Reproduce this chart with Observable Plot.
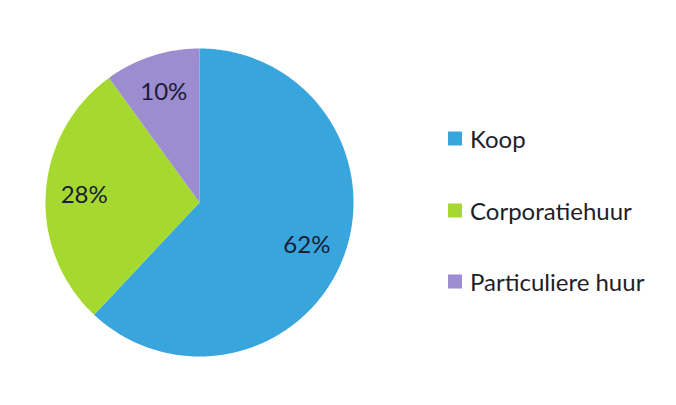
<!DOCTYPE html>
<html>
<head>
<meta charset="utf-8">
<script src="https://cdn.jsdelivr.net/npm/d3@7"></script>
<script src="https://cdn.jsdelivr.net/npm/@observablehq/plot@0.6"></script>
<style>
  html, body { margin: 0; padding: 0; background: #fff; }
  #wrap { position: relative; width: 676px; height: 405px; font-family: Lato, "Open Sans", sans-serif; }
  #legend { position: absolute; left: 448px; top: 0; }
  .item { position: absolute; left: 0; display: flex; align-items: center; white-space: nowrap; color: #1e1e2a; font-size: 24px; transform: translateY(-50%); }
  .sw { width: 14px; height: 14px; margin-right: 8px; }
</style>
</head>
<body>
<div id="wrap"></div>
<script>
const categories = ["Koop", "Corporatiehuur", "Particuliere huur"];
const shares = [62, 28, 10];
const colors = ["#38a5dd", "#a5d92f", "#9c8cd0"];

const data = categories.map((c, i) => ({ key: c, value: shares[i] }));
const arcs = d3.pie().sort(null).value(d => d.value)(data);

// slice outlines derived from the pie layout
const pts = [];
arcs.forEach(a => {
  const k = a.data.key;
  pts.push({ key: k, x: 0, y: 0 });
  const n = Math.max(2, Math.ceil((a.endAngle - a.startAngle) / (Math.PI / 360)));
  for (let j = 0; j <= n; j++) {
    const t = a.startAngle + (a.endAngle - a.startAngle) * j / n;
    pts.push({ key: k, x: Math.sin(t), y: Math.cos(t) });
  }
  pts.push({ key: k, x: 0, y: 0 });
});
const labels = arcs.map(a => {
  const m = (a.startAngle + a.endAngle) / 2;
  return { key: a.data.key, text: a.data.value + "%", x: 0.75 * Math.sin(m), y: 0.75 * Math.cos(m) };
});

const chart = Plot.plot({
  width: 676,
  height: 405,
  marginLeft: 45,
  marginRight: 323,
  marginTop: 48,
  marginBottom: 49,
  x: { domain: [-1, 1], axis: null },
  y: { domain: [-1, 1], axis: null },
  color: { domain: categories, range: colors },
  style: { fontFamily: "Lato, 'Open Sans', sans-serif", background: "#fff" },
  marks: [
    Plot.line(pts, { x: "x", y: "y", z: "key", fill: "key", stroke: "none", curve: "linear" }),
    Plot.text(labels, { x: "x", y: "y", text: "text", fontSize: 24, fill: "#1c1c34" })
  ]
});

const wrap = document.getElementById("wrap");
wrap.appendChild(chart);
const legend = document.createElement("div");
legend.id = "legend";
const rowY = [138, 210, 281];
categories.forEach((c, i) => {
  const it = document.createElement("div");
  it.className = "item";
  it.style.top = rowY[i] + "px";
  const sw = document.createElement("span");
  sw.className = "sw";
  sw.style.background = colors[i];
  const tx = document.createElement("span");
  tx.textContent = c;
  it.appendChild(sw);
  it.appendChild(tx);
  legend.appendChild(it);
});
wrap.appendChild(legend);
</script>
</body>
</html>
